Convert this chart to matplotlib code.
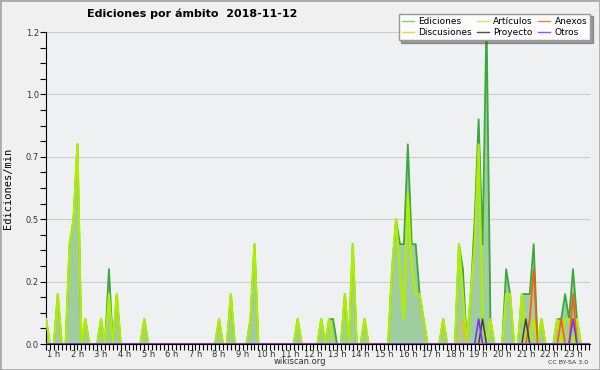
import numpy as np
import matplotlib.pyplot as plt
from matplotlib.patches import Rectangle
from matplotlib.lines import Line2D

# 10 minute bins (bin k -> k/6 hours), values in edits/min
bins = np.arange(4, 143)

ediciones = {4: 0.1, 7: 0.2, 10: 0.4, 11: 0.5, 12: 0.8, 14: 0.1, 18: 0.1, 20: 0.3,
             22: 0.2, 29: 0.1, 48: 0.1, 51: 0.2, 56: 0.1, 57: 0.4, 68: 0.1, 74: 0.1,
             76: 0.1, 77: 0.1, 80: 0.2, 82: 0.4, 85: 0.1,
             92: 0.3, 93: 0.5, 94: 0.4, 95: 0.4, 96: 0.8, 97: 0.4, 98: 0.4, 99: 0.2, 100: 0.1,
             105: 0.1, 109: 0.4, 110: 0.3,
             112: 0.2, 113: 0.5, 114: 0.9, 115: 0.4, 116: 1.3, 117: 0.1,
             121: 0.3, 122: 0.2, 125: 0.2, 126: 0.2, 127: 0.2, 128: 0.4, 130: 0.1,
             134: 0.1, 135: 0.1, 136: 0.2, 137: 0.1, 138: 0.3, 139: 0.1}

articulos = {4: 0.1, 7: 0.2, 10: 0.4, 11: 0.5, 12: 0.8, 14: 0.1, 18: 0.1, 20: 0.2,
             22: 0.2, 29: 0.1, 48: 0.1, 51: 0.2, 56: 0.1, 57: 0.4, 68: 0.1, 74: 0.1,
             76: 0.1, 80: 0.2, 82: 0.4, 85: 0.1,
             92: 0.3, 93: 0.5, 94: 0.3, 95: 0.1, 96: 0.6, 97: 0.3, 98: 0.2, 99: 0.2, 100: 0.1,
             105: 0.1, 109: 0.4, 110: 0.2,
             112: 0.2, 113: 0.4, 114: 0.8, 115: 0.1, 117: 0.1,
             121: 0.2, 122: 0.2, 125: 0.2, 128: 0.1, 130: 0.1,
             134: 0.1, 136: 0.1, 137: 0.1, 139: 0.1}

anexos = {127: 0.1, 128: 0.3, 135: 0.1, 138: 0.2}
discusiones = {110: 0.1}
proyecto = {115: 0.1, 126: 0.1}
otros = {114: 0.1, 138: 0.1}

hour_labels = ['%d h' % h for h in range(1, 24)]
ytick_vals = [0, 0.25, 0.5, 0.75, 1.0, 1.25]
ytick_labels = ['0.0', '0.2', '0.5', '0.7', '1.0', '1.2']


def series(d):
    return np.array([d.get(k, 0.0) for k in bins])


t = bins / 6.0

fig = plt.figure(figsize=(6, 3.7), dpi=100, facecolor='#f0f0f0')
ax = fig.add_axes([46/600, 1-344/370, 544/600, 312/370])
ax.set_facecolor('#eff0f2')

ed = series(ediciones)
ax.fill_between(t, ed, color='#a0cda0', lw=0, zorder=2)
ax.plot(t, ed, color='#3aa83a', lw=1.3, zorder=3)
ax.plot(t, series(articulos), color='#b0ee00', lw=1.6, zorder=4)
ax.plot(t, series(discusiones), color='#f0c020', lw=1.2, zorder=5)
ax.plot(t, series(anexos), color='#ff5a10', lw=1.2, zorder=5)
ax.plot(t, series(proyecto), color='#404040', lw=1.1, zorder=5)
ax.plot(t, series(otros), color='#8030f0', lw=1.2, zorder=5)

ax.set_xlim(4/6, 23.72)
ax.set_ylim(0, 1.25)
ax.set_yticks(ytick_vals, ytick_labels)
ax.set_yticks(np.arange(0, 1.26, 0.0625), minor=True)
ax.set_xticks(range(1, 24), hour_labels)
ax.set_xticks(t, minor=True)
ax.yaxis.grid(True, color='#cccccc', lw=0.8)
ax.set_axisbelow(True)
for s in ['top', 'right']:
    ax.spines[s].set_visible(False)
ax.tick_params(axis='both', which='both', direction='out', length=4, width=0.8,
               labelsize=6, labelcolor='#333333', pad=1)
ax.tick_params(axis='x', which='major', pad=0)

ax.set_ylabel('Ediciones/min', family='DejaVu Sans Mono', fontsize=7.5, labelpad=9)
fig.text(0.32, 1-14/370, 'Ediciones por ámbito  2018-11-12', ha='center', va='center',
         fontsize=8, fontweight='bold')
fig.text(0.5, 1-362/370, 'wikiscan.org', ha='center', va='center', fontsize=6, color='#333333')
fig.text(588/600, 1-362/370, 'CC BY-SA 3.0', ha='right', va='center', fontsize=4.5, color='#333333')

handles = [Line2D([], [], color=c, lw=1) for c in
           ['#80d080', '#f0d050', '#c8f060', '#505050', '#f08050', '#a050f0']]
names = ['Ediciones', 'Discusiones', 'Artículos', 'Proyecto', 'Anexos', 'Otros']
fig.legend(handles, names, ncol=3, loc='upper right', bbox_to_anchor=(595/600, 1-9/370),
           fontsize=6.5, handlelength=1.3, columnspacing=0.6, labelspacing=0.25,
           borderpad=0.35, handletextpad=0.5, fancybox=False, shadow=True,
           edgecolor='#999999', facecolor='#fcfcfc', framealpha=1)

fig.patches.append(Rectangle((0, 0), 1, 1, transform=fig.transFigure, fill=False,
                             edgecolor='#aaaaaa', lw=2))

fig.savefig('out.png', dpi=100, facecolor=fig.get_facecolor())
